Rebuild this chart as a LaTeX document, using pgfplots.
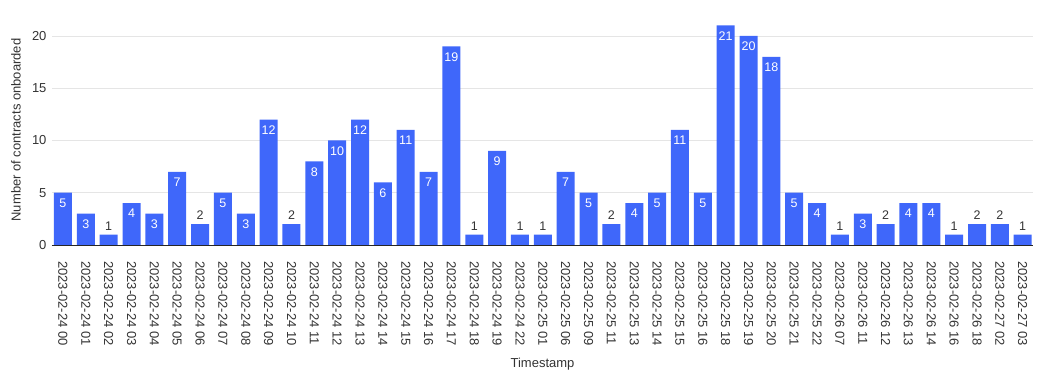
\documentclass[border=0pt]{standalone}
\usepackage{fontspec}
\setmainfont{Liberation Sans}
\usepackage{pgfplots}
\pgfplotsset{compat=1.18}
\definecolor{barblue}{HTML}{3F67FA}
\definecolor{txt}{HTML}{333333}
\begin{document}
\begin{tikzpicture}
\useasboundingbox (-52pt,-129pt) rectangle (987pt,245pt);
\begin{axis}[
  at={(0pt,0pt)}, anchor=south west,
  scale only axis, width=981pt, height=230pt,
  xmin=-0.48, xmax=42.45, ymin=0, ymax=22,
  axis lines*=left,
  y axis line style={draw=none},
  x axis line style={black!85, line width=0.8pt},
  major tick length=0pt,
  ytick={0,5,10,15,20},
  ymajorgrids, grid style={black!10, line width=0.5pt},
  /pgf/number format/assume math mode=true,
  yticklabel style={font=\fontsize{13}{15}\selectfont, text=txt, xshift=-2pt},
  xtick={0,...,42},
  xticklabels={2023-02-24 00,2023-02-24 01,2023-02-24 02,2023-02-24 03,2023-02-24 04,2023-02-24 05,2023-02-24 06,2023-02-24 07,2023-02-24 08,2023-02-24 09,2023-02-24 10,2023-02-24 11,2023-02-24 12,2023-02-24 13,2023-02-24 14,2023-02-24 15,2023-02-24 16,2023-02-24 17,2023-02-24 18,2023-02-24 19,2023-02-24 22,2023-02-25 01,2023-02-25 06,2023-02-25 09,2023-02-25 11,2023-02-25 13,2023-02-25 14,2023-02-25 15,2023-02-25 16,2023-02-25 18,2023-02-25 19,2023-02-25 20,2023-02-25 21,2023-02-25 22,2023-02-26 07,2023-02-26 11,2023-02-26 12,2023-02-26 13,2023-02-26 14,2023-02-26 16,2023-02-26 18,2023-02-27 02,2023-02-27 03},
  xticklabel style={rotate=-90, anchor=west, font=\fontsize{13}{15}\selectfont, text=txt, inner sep=0pt},
  xticklabel shift=16pt,
  xlabel={Timestamp},
  ylabel={Number of contracts onboarded},
  every axis x label/.style={at={(axis description cs:0.5,0)}, anchor=center, yshift=-119pt, font=\fontsize{13}{15}\selectfont, text=txt},
  every axis y label/.style={at={(axis description cs:0,0.5)}, xshift=-36pt, anchor=center, rotate=90, font=\fontsize{13}{15}\selectfont, text=txt},
]
\addplot[ybar, bar width=18pt, bar shift=0pt, fill=barblue, draw=none,
  nodes near coords,
  every node near coord/.append style={anchor=north, text=white, inner sep=0pt, yshift=-6pt, font=\fontsize{12.5}{14}\selectfont}]
  coordinates {(0,5) (1,3) (3,4) (4,3) (5,7) (7,5) (8,3) (9,12) (11,8) (12,10) (13,12) (14,6) (15,11) (16,7) (17,19) (19,9) (22,7) (23,5) (25,4) (26,5) (27,11) (28,5) (29,21) (30,20) (31,18) (32,5) (33,4) (35,3) (37,4) (38,4)};
\addplot[ybar, bar width=18pt, bar shift=0pt, fill=barblue, draw=none,
  nodes near coords,
  every node near coord/.append style={anchor=south, text=txt, inner sep=0pt, yshift=4pt, font=\fontsize{12.5}{14}\selectfont}]
  coordinates {(2,1) (6,2) (10,2) (18,1) (20,1) (21,1) (24,2) (34,1) (36,2) (39,1) (40,2) (41,2) (42,1)};
\end{axis}
\end{tikzpicture}
\end{document}
